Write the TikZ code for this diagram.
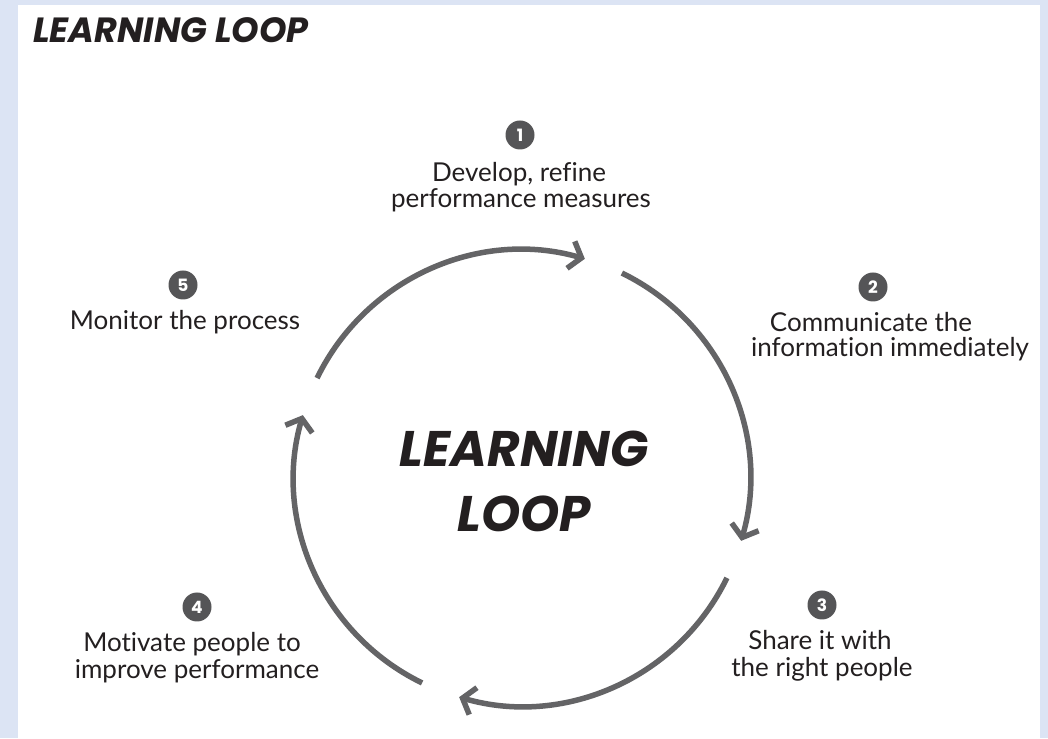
\documentclass[tikz,border=0pt]{standalone}
\usepackage{fontspec}
\setmainfont{Lato}[Ligatures={NoCommon}]
\newfontfamily\titlefont{Poppins}
\usetikzlibrary{arrows.meta}
\definecolor{bgblue}{RGB}{220,228,244}
\definecolor{loopgray}{RGB}{100,100,102}
\definecolor{numgray}{RGB}{85,85,87}
\definecolor{inkblack}{RGB}{35,31,32}
\begin{document}
\begin{tikzpicture}[x=1pt,y=1pt,
  looparc/.style={draw=loopgray, line width=5.5pt, -{Straight Barb[length=11pt,width=28pt]}},
  numdot/.style={circle, fill=numgray, minimum size=29pt, inner sep=0pt, text=white, font=\titlefont\bfseries\fontsize{17}{17}\selectfont},
  lbl/.style={font=\fontsize{26}{26}\selectfont, text=inkblack, inner sep=0pt, anchor=base},
  bigtitle/.style={font=\titlefont\bfseries\itshape\fontsize{50}{50}\selectfont, text=inkblack, inner sep=0pt, anchor=base},
  headtitle/.style={font=\titlefont\bfseries\itshape\fontsize{35}{35}\selectfont, text=inkblack, inner sep=0pt, anchor=base west}]
\fill[bgblue] (0,0) rectangle (1048,738);
\fill[white] (18,0) rectangle (1040,733);
\useasboundingbox (0,0) rectangle (1048,738);

\node[headtitle] (title) at (33,695) {LEARNING LOOP};

% center
\coordinate (C) at (522,260);
\node[bigtitle] (ct1) at (524,271) {LEARNING};
\node[bigtitle] (ct2) at (524,206) {LOOP};

% arcs
\path (C) ++(154:228) coordinate (a1s);
\path (C) ++(64:228) coordinate (a2s);
\path (C) ++(-26:228) coordinate (a3s);
\path (C) ++(-116:228) coordinate (a4s);
\draw[looparc] (a1s) arc[start angle=154, end angle=74, radius=228];
\draw[looparc] (a2s) arc[start angle=64, end angle=-16, radius=228];
\draw[looparc] (a3s) arc[start angle=-26, end angle=-106, radius=228];
\draw[looparc] (a4s) arc[start angle=-116, end angle=-196, radius=228];

% step 1
\node[numdot] (n1) at (520,603) {1};
\node[lbl] (l1a) at (519,556) {Develop, refine};
\node[lbl] (l1b) at (521,530) {performance measures};
% step 2
\node[numdot] (n2) at (873,451) {2};
\node[lbl] (l2a) at (871,406) {Communicate the};
\node[lbl] (l2b) at (890,381) {information immediately};
% step 3
\node[numdot] (n3) at (822,133) {3};
\node[lbl] (l3a) at (820,88) {Share it with};
\node[lbl] (l3b) at (822,61) {the right people};
% step 4
\node[numdot] (n4) at (197,131) {4};
\node[lbl] (l4a) at (192,86) {Motivate people to};
\node[lbl] (l4b) at (197,59) {improve performance};
% step 5
\node[numdot] (n5) at (183,453) {5};
\node[lbl] (l5a) at (185,408) {Monitor the process};
\end{tikzpicture}
\end{document}
